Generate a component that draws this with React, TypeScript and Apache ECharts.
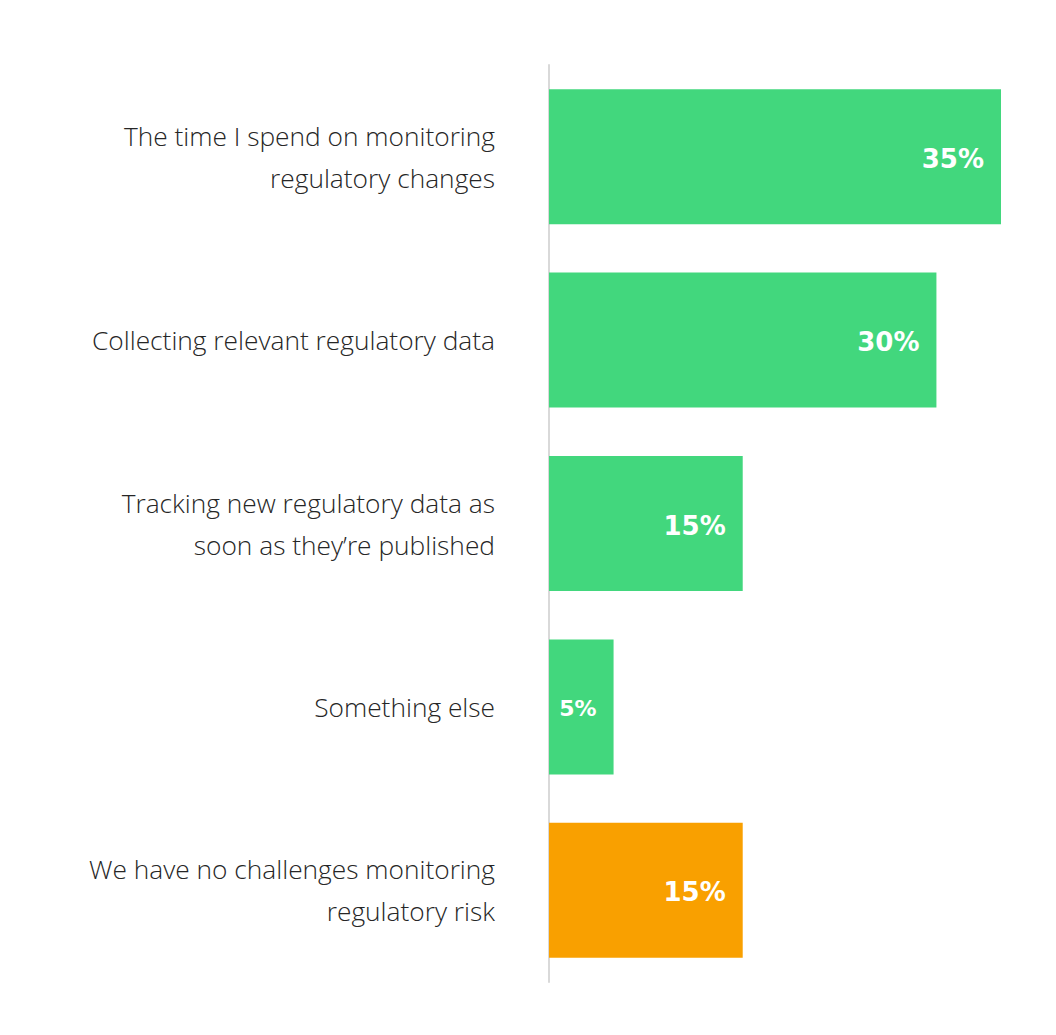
import React, { useEffect, useRef } from "react";
import * as echarts from "echarts";

const categories = [
  "The time I spend on monitoring\nregulatory changes",
  "Collecting relevant regulatory data",
  "Tracking new regulatory data as\nsoon as they’re published",
  "Something else",
  "We have no challenges monitoring\nregulatory risk",
];
const values = [35, 30, 15, 5, 15];
const barColors = ["#42D77D", "#42D77D", "#42D77D", "#42D77D", "#F9A000"];
const labelSizes = [26, 26, 26, 22, 26];

export default function App() {
  const ref = useRef<HTMLDivElement>(null);
  useEffect(() => {
    if (!ref.current) return;
    const chart = echarts.init(ref.current, null, { renderer: "svg" });
    chart.setOption({
      animation: false,
      backgroundColor: "#ffffff",
      grid: { left: 541, right: 47, top: 57, bottom: 45, containLabel: false },
      xAxis: {
        type: "value",
        min: 0,
        max: 35,
        show: false,
      },
      yAxis: {
        type: "category",
        inverse: true,
        data: categories,
        axisLine: { show: true, lineStyle: { color: "#d9d9d9", width: 2 } },
        axisTick: { show: false },
        axisLabel: {
          margin: 54,
          color: "#262626",
          fontFamily: "Open Sans",
          fontWeight: 300,
          fontSize: 26.3,
          lineHeight: 42,
          align: "right",
        },
      },
      series: [
        {
          type: "bar",
          barWidth: 135,
          data: values.map((v, i) => ({
            value: v,
            itemStyle: { color: barColors[i] },
            label: { fontSize: labelSizes[i] },
          })),
          label: {
            show: true,
            position: "insideRight",
            distance: 17,
            offset: [0, 2],
            formatter: "{c}%",
            color: "#ffffff",
            fontFamily: "DejaVu Sans",
            fontWeight: "bold",
            fontSize: 26,
          },
        },
      ],
    });
    return () => chart.dispose();
  }, []);
  return <div ref={ref} style={{ width: 1040, height: 1019 }} />;
}
